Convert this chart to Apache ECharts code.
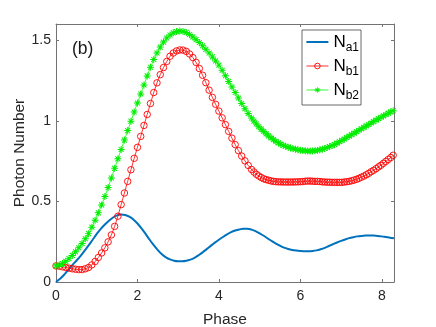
<!DOCTYPE html>
<html>
<head>
<meta charset="utf-8">
<script src="https://cdn.jsdelivr.net/npm/echarts@6/dist/echarts.min.js"></script>
<style>
html, body { margin: 0; padding: 0; background: #fff; }
#chart { width: 436px; height: 327px; }
</style>
</head>
<body>
<div id="chart"></div>
<script>
var dom = document.getElementById("chart");
var myChart = echarts.init(dom);

// phase grid of the blue curve
var phaseA = [0, 0.1, 0.2, 0.3, 0.4, 0.5, 0.6, 0.7, 0.8, 0.9, 1, 1.1, 1.2, 1.3, 1.4, 1.5, 1.6, 1.7, 1.8, 1.9,
    2, 2.1, 2.2, 2.3, 2.4, 2.5, 2.6, 2.7, 2.8, 2.9, 3, 3.1, 3.2, 3.3, 3.4, 3.5, 3.6, 3.7, 3.8, 3.9,
    4, 4.1, 4.2, 4.3, 4.4, 4.5, 4.6, 4.7, 4.8, 4.9, 5, 5.1, 5.2, 5.3, 5.4, 5.5, 5.6, 5.7, 5.8, 5.9,
    6, 6.1, 6.2, 6.3, 6.4, 6.5, 6.6, 6.7, 6.8, 6.9, 7, 7.1, 7.2, 7.3, 7.4, 7.5, 7.6, 7.7, 7.8, 7.9,
    8, 8.1, 8.2, 8.3];
var na1 = [0, 0.020, 0.045, 0.074, 0.104, 0.132, 0.161, 0.193, 0.227, 0.262, 0.298, 0.330, 0.357, 0.380, 0.400,
    0.413, 0.418, 0.415, 0.405, 0.388, 0.363, 0.332, 0.298, 0.262, 0.228, 0.198, 0.172, 0.153, 0.140, 0.132,
    0.129, 0.129, 0.132, 0.139, 0.150, 0.166, 0.184, 0.204, 0.224, 0.244, 0.262, 0.279, 0.295, 0.309, 0.319,
    0.326, 0.330, 0.330, 0.325, 0.316, 0.302, 0.287, 0.270, 0.254, 0.238, 0.225, 0.213, 0.205, 0.199, 0.195,
    0.192, 0.190, 0.190, 0.192, 0.196, 0.203, 0.212, 0.223, 0.234, 0.245, 0.255, 0.264, 0.272, 0.278, 0.283,
    0.286, 0.288, 0.289, 0.288, 0.286, 0.283, 0.279, 0.275, 0.271];

// phase grid of the marker curves
var phaseB = [0, 0.08, 0.16, 0.24, 0.32, 0.4, 0.48, 0.56, 0.64, 0.72, 0.8, 0.88, 0.96, 1.04, 1.12, 1.2, 1.28, 1.36,
    1.44, 1.52, 1.6, 1.68, 1.76, 1.84, 1.92, 2, 2.08, 2.16, 2.24, 2.32, 2.4, 2.48, 2.56, 2.64, 2.72, 2.8, 2.88,
    2.96, 3.04, 3.12, 3.2, 3.28, 3.36, 3.44, 3.52, 3.6, 3.68, 3.76, 3.84, 3.92, 4, 4.08, 4.16, 4.24, 4.32, 4.4,
    4.48, 4.56, 4.64, 4.72, 4.8,
    4.86, 4.92, 4.98, 5.04, 5.1, 5.16, 5.22, 5.28, 5.34, 5.4, 5.46, 5.52, 5.58, 5.64, 5.7, 5.76, 5.82, 5.88,
    5.94, 6, 6.06, 6.12, 6.18, 6.24, 6.3, 6.36, 6.42, 6.48, 6.54, 6.6, 6.66, 6.72, 6.78, 6.84, 6.9, 6.96, 7.02,
    7.08, 7.14, 7.2, 7.26, 7.32, 7.38, 7.44, 7.5, 7.56, 7.62, 7.68, 7.74, 7.8, 7.86, 7.92, 7.98, 8.04, 8.1,
    8.16, 8.22, 8.28];
var nb1 = [0.100, 0.098, 0.094, 0.090, 0.086, 0.082, 0.079, 0.077, 0.077, 0.082, 0.090, 0.106, 0.127, 0.152,
    0.180, 0.212, 0.249, 0.292, 0.345, 0.408, 0.480, 0.552, 0.624, 0.696, 0.767, 0.835, 0.903, 0.971, 1.039,
    1.107, 1.175, 1.235, 1.286, 1.330, 1.368, 1.400, 1.420, 1.433, 1.439, 1.438, 1.430, 1.414, 1.392, 1.362,
    1.324, 1.282, 1.236, 1.190, 1.145, 1.102, 1.060, 1.018, 0.976, 0.934, 0.892, 0.852, 0.815, 0.781, 0.751,
    0.723, 0.698,
    0.682, 0.668, 0.657, 0.648, 0.640, 0.635, 0.631, 0.627, 0.624, 0.622, 0.621, 0.621, 0.620, 0.620, 0.620,
    0.620, 0.620, 0.621, 0.621, 0.622, 0.623, 0.625, 0.626, 0.626, 0.625, 0.624, 0.624, 0.623, 0.621, 0.620,
    0.619, 0.619, 0.618, 0.618, 0.618, 0.618, 0.618, 0.620, 0.622, 0.624, 0.628, 0.632, 0.637, 0.643, 0.650,
    0.657, 0.665, 0.674, 0.684, 0.693, 0.703, 0.714, 0.724, 0.736, 0.748, 0.760, 0.772, 0.786];
var nb2 = [0.100, 0.105, 0.114, 0.128, 0.145, 0.165, 0.187, 0.212, 0.239, 0.268, 0.300, 0.340, 0.383, 0.429,
    0.478, 0.530, 0.586, 0.645, 0.705, 0.764, 0.822, 0.880, 0.939, 0.997, 1.054, 1.110, 1.166, 1.222, 1.278,
    1.332, 1.380, 1.420, 1.457, 1.488, 1.513, 1.532, 1.545, 1.553, 1.556, 1.554, 1.548, 1.535, 1.520, 1.503,
    1.485, 1.465, 1.443, 1.420, 1.396, 1.371, 1.345, 1.313, 1.279, 1.244, 1.209, 1.175, 1.141, 1.107, 1.075,
    1.045, 1.017,
    0.998, 0.980, 0.963, 0.948, 0.933, 0.919, 0.906, 0.894, 0.883, 0.872, 0.863, 0.855, 0.847, 0.842, 0.836,
    0.831, 0.827, 0.824, 0.820, 0.817, 0.815, 0.814, 0.812, 0.812, 0.813, 0.814, 0.816, 0.820, 0.824, 0.828,
    0.834, 0.840, 0.846, 0.853, 0.861, 0.870, 0.878, 0.887, 0.896, 0.905, 0.914, 0.923, 0.932, 0.941, 0.950,
    0.959, 0.968, 0.977, 0.986, 0.995, 1.004, 1.013, 1.022, 1.030, 1.039, 1.047, 1.055, 1.062];

var seriesNames = ['Na1', 'Nb1', 'Nb2'];
var subText = {Na1: 'a1', Nb1: 'b1', Nb2: 'b2'};
var xTicks = [0, 2, 4, 6, 8];

function pairs(xs, ys) {
    var out = [];
    for (var i = 0; i < ys.length; i++) out.push([xs[i], ys[i]]);
    return out;
}

// asterisk marker (four thin bars)
var starPath = 'path://M-0.7,-5L0.7,-5L0.7,5L-0.7,5Z' +
    'M-5,-0.7L5,-0.7L5,0.7L-5,0.7Z' +
    'M-4.03,-3.04L-3.04,-4.03L4.03,3.04L3.04,4.03Z' +
    'M-3.04,4.03L-4.03,3.04L3.04,-4.03L4.03,-3.04Z';

var font = 'Liberation Sans, Arial, Helvetica, sans-serif';
var frame = '#737373';
var txt = '#262626';

function xAxisCfg(pos, labels) {
    return {
        type: 'value', position: pos, min: 0, max: 8.3, interval: 2,
        splitLine: {show: false},
        axisLine: {show: true, onZero: false, lineStyle: {color: frame, width: 1}},
        axisTick: {show: true, inside: true, length: 3, lineStyle: {color: frame}},
        axisLabel: {show: labels, color: txt, fontSize: 14, fontFamily: font, margin: 7, showMaxLabel: false,
            formatter: function (v) { return xTicks.indexOf(v) >= 0 ? String(v) : ''; }},
        name: labels ? 'Phase' : '', nameLocation: 'middle', nameGap: 30, nameMoveOverlap: false,
        nameTextStyle: {color: txt, fontSize: 15.5, fontFamily: font}
    };
}
function yAxisCfg(pos, labels) {
    return {
        type: 'value', position: pos, min: 0, max: 1.6, interval: 0.5,
        splitLine: {show: false},
        axisLine: {show: true, onZero: false, lineStyle: {color: frame, width: 1}},
        axisTick: {show: true, inside: true, length: 3, lineStyle: {color: frame}},
        axisLabel: {show: labels, color: txt, fontSize: 14, fontFamily: font, margin: 5, showMaxLabel: false},
        name: labels ? 'Photon Number' : '', nameLocation: 'middle', nameGap: 28, nameMoveOverlap: false,
        nameTextStyle: {color: txt, fontSize: 15.5, fontFamily: font}
    };
}

var option = {
    backgroundColor: '#fff',
    animation: false,
    title: {
        text: '(b)', left: 72, top: 40, padding: 0,
        textStyle: {fontSize: 17.5, fontWeight: 'normal', color: '#1a1a1a', fontFamily: font}
    },
    grid: {left: 56, right: 42, top: 24, bottom: 45, show: false, containLabel: false, outerBoundsMode: 'none'},
    legend: {
        orient: 'vertical', left: 302, top: 30,
        padding: [0, 2, 3, 4], itemGap: 0,
        itemWidth: 22, itemHeight: 7,
        backgroundColor: '#fff', borderColor: '#444', borderWidth: 0.8,
        selectedMode: false,
        lineStyle: {width: 'inherit'},
        itemStyle: {borderWidth: 0.9},
        data: [
            {name: 'Na1', icon: 'path://M0,0L22,0L22,2L0,2Z'},
            {name: 'Nb1'},
            {name: 'Nb2'}
        ],
        formatter: function (name) { return '{n|N}{s|' + subText[name] + '}'; },
        textStyle: {
            fontFamily: font, color: '#000',
            rich: {
                n: {fontSize: 17, fontFamily: font, lineHeight: 18, padding: [1, 0, 3, 0], verticalAlign: 'top', color: '#000'},
                s: {fontSize: 12, fontFamily: font, lineHeight: 12, padding: [12, 0, 0, 0], color: '#000'}
            }
        }
    },
    xAxis: [xAxisCfg('bottom', true), xAxisCfg('top', false)],
    yAxis: [yAxisCfg('left', true), yAxisCfg('right', false)],
    series: [{
        name: seriesNames[0],
        type: 'line',
        data: pairs(phaseA, na1),
        symbol: 'none',
        smooth: 0.3,
        color: '#0072bd',
        lineStyle: {color: '#0072bd', width: 2}
    }, {
        name: seriesNames[1],
        type: 'line',
        data: pairs(phaseB, nb1),
        symbol: 'circle',
        symbolSize: 6.5,
        showAllSymbol: true,
        color: '#ff0000',
        itemStyle: {color: 'rgba(255,255,255,0)', borderColor: '#ff0000', borderWidth: 0.9},
        lineStyle: {color: '#ff0000', width: 0.8}
    }, {
        name: seriesNames[2],
        type: 'line',
        data: pairs(phaseB, nb2),
        symbol: starPath,
        symbolSize: 7,
        showAllSymbol: true,
        color: '#00ff00',
        itemStyle: {color: '#00ee00'},
        lineStyle: {color: '#00ff00', width: 0.8}
    }]
};

myChart.setOption(option, true);
</script>
</body>
</html>
